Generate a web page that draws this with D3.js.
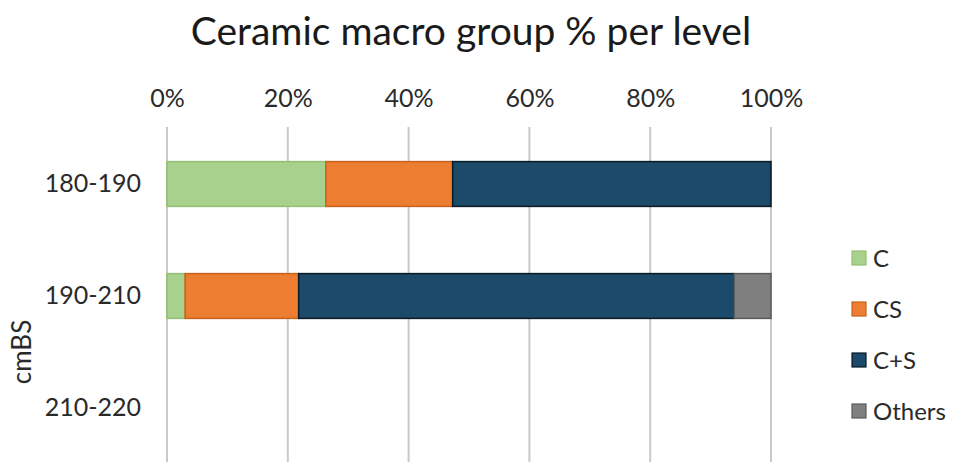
<!DOCTYPE html>
<html>
<head>
<meta charset="utf-8">
<script src="https://cdn.jsdelivr.net/npm/d3@7"></script>
<style>
  html, body { margin: 0; padding: 0; background: #fff; }
  svg { display: block; font-family: Lato, "Open Sans", sans-serif; font-weight: 400; }
</style>
</head>
<body>
<svg id="chart" width="953" height="462"></svg>
<script>
// Depth levels (cm below surface) and the share of each ceramic macro group
const levels = ["180-190", "190-210", "210-220"];
const groups = ["C", "CS", "C+S", "Others"];
const shareC      = [26.3, 3.0, 0];
const shareCS     = [21.0, 18.8, 0];
const shareCplusS = [52.7, 72.1, 0];
const shareOthers = [0.0, 6.1, 0];
const tickValues  = [0, 20, 40, 60, 80, 100];

const fills   = ["#a9d18e", "#ed7d31", "#1c4a6a", "#7f7f7f"];
const strokes = ["#93c072", "#c8621c", "#0a1a26", "#5a5a5a"];

const rows = levels.map((lvl, i) => ({
  level: lvl,
  "C": shareC[i], "CS": shareCS[i], "C+S": shareCplusS[i], "Others": shareOthers[i]
}));

const svg = d3.select("#chart");

const x = d3.scaleLinear().domain([0, 100]).range([167, 771]);
const y = d3.scaleBand().domain(levels).range([128, 464])
  .paddingInner(0.6).paddingOuter(0.3);
const color = d3.scaleOrdinal().domain(groups).range(fills);
const edge  = d3.scaleOrdinal().domain(groups).range(strokes);

// Title
svg.append("text")
  .attr("x", 471).attr("y", 45)
  .attr("text-anchor", "middle")
  .attr("font-size", 39)
  .attr("fill", "#1a1a1a")
  .text("Ceramic macro group % per level");

// Vertical gridlines
svg.append("g")
  .selectAll("line")
  .data(tickValues)
  .join("line")
  .attr("x1", d => x(d)).attr("x2", d => x(d))
  .attr("y1", y.range()[0] - 1).attr("y2", 462)
  .attr("stroke", "#c9c9c9")
  .attr("stroke-width", 2);

// Top percentage axis
const xAxis = d3.axisTop(x)
  .tickValues(tickValues)
  .tickFormat(d => d + "%")
  .tickSize(0)
  .tickPadding(0);
const gx = svg.append("g")
  .attr("transform", "translate(0,107)")
  .call(xAxis);
gx.select(".domain").remove();
gx.selectAll("text")
  .attr("font-size", 25)
  .attr("font-family", "Lato, 'Open Sans', sans-serif")
  .attr("fill", "#2a2a2a");

// Level labels on the left
const yAxis = d3.axisLeft(y).tickSize(0).tickPadding(0);
const gy = svg.append("g")
  .attr("transform", "translate(141,0)")
  .call(yAxis);
gy.select(".domain").remove();
gy.selectAll("text")
  .attr("font-size", 25)
  .attr("font-family", "Lato, 'Open Sans', sans-serif")
  .attr("fill", "#2a2a2a");

// Axis title
svg.append("text")
  .attr("transform", "translate(31,352) rotate(-90)")
  .attr("text-anchor", "middle")
  .attr("font-size", 26)
  .attr("fill", "#2a2a2a")
  .text("cmBS");

// Stacked 100% bars
const stacked = d3.stack().keys(groups)(rows);
svg.append("g")
  .selectAll("g")
  .data(stacked)
  .join("g")
  .attr("fill", d => color(d.key))
  .attr("stroke", d => edge(d.key))
  .attr("stroke-width", 1.5)
  .selectAll("rect")
  .data(d => d.filter(s => s[1] - s[0] > 0))
  .join("rect")
  .attr("x", s => x(s[0]))
  .attr("width", s => x(s[1]) - x(s[0]))
  .attr("y", s => y(s.data.level))
  .attr("height", y.bandwidth());

// Legend
const legendY = d3.scalePoint().domain(groups).range([258, 411]);
const lg = svg.append("g")
  .selectAll("g")
  .data(groups)
  .join("g")
  .attr("transform", d => `translate(852,${legendY(d)})`);
lg.append("rect")
  .attr("x", 0).attr("y", -7)
  .attr("width", 14).attr("height", 14)
  .attr("fill", d => color(d))
  .attr("stroke", d => edge(d))
  .attr("stroke-width", 1.2);
lg.append("text")
  .attr("x", 21).attr("y", 0)
  .attr("dy", "0.36em")
  .attr("font-size", 24)
  .attr("fill", "#2a2a2a")
  .text(d => d);
</script>
</body>
</html>
